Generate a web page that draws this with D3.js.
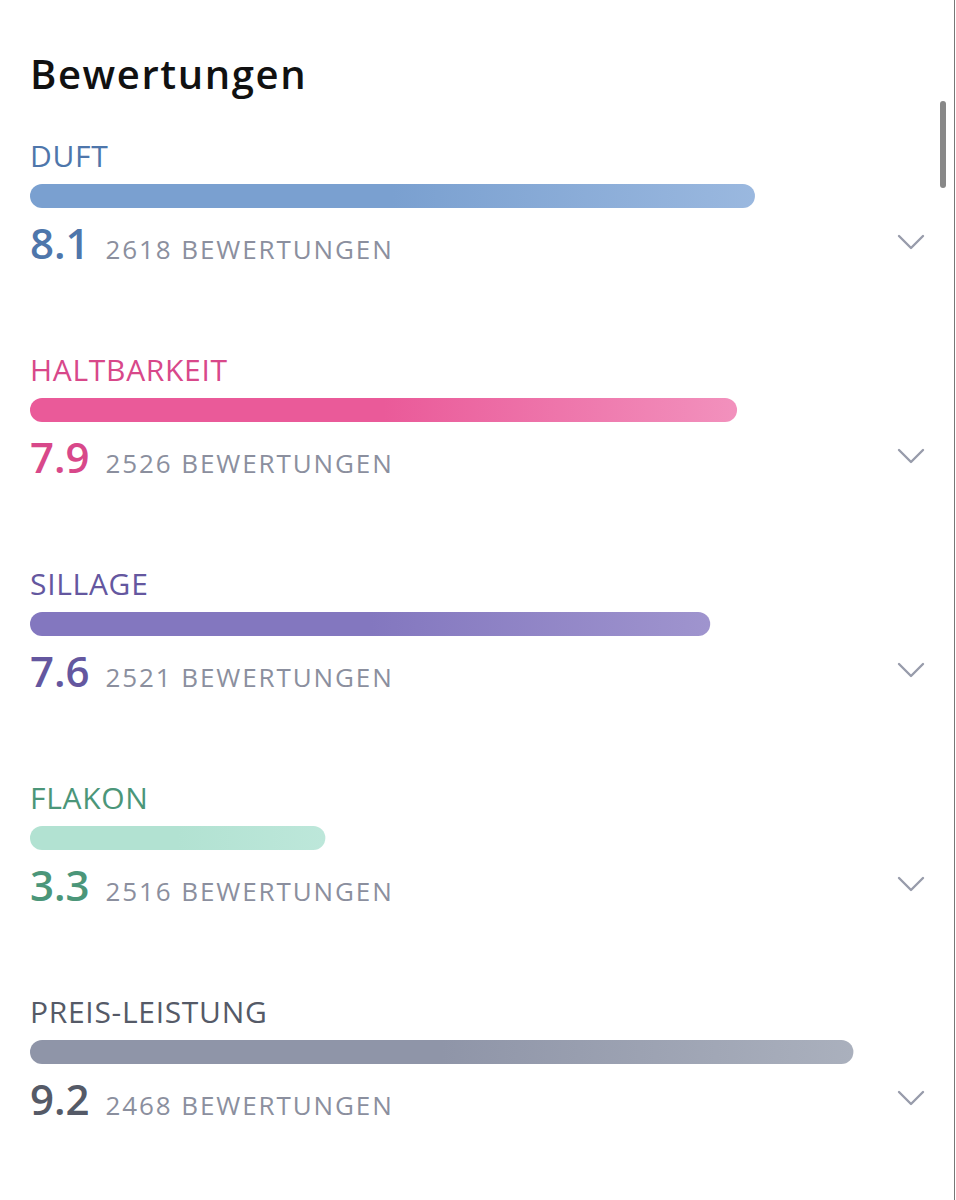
<!DOCTYPE html>
<html>
<head>
<meta charset="utf-8">
<script src="https://cdn.jsdelivr.net/npm/d3@7"></script>
<style>
  body { margin: 0; background: #fff; }
  svg { display: block; font-family: "Open Sans", sans-serif; }
</style>
</head>
<body>
<div id="chart"></div>
<script>
// ratings data
var categories = ["DUFT", "HALTBARKEIT", "SILLAGE", "FLAKON", "PREIS-LEISTUNG"];
var scores = [8.1, 7.9, 7.6, 3.3, 9.2];
var counts = [2618, 2526, 2521, 2516, 2468];
var labelColors = ["#4e76ab", "#d8488a", "#64579f", "#4b9679", "#555a67"];
var barColorsFrom = ["#7aa0d0", "#ea5a99", "#8377bf", "#b2e2d2", "#8f95a8"];
var barColorsTo = ["#9ab8df", "#f291bd", "#9f94ce", "#bde7da", "#aab0bd"];

var w = 956, h = 1200;

var svg = d3.select("#chart").append("svg")
    .attr("width", w)
    .attr("height", h);

var x = d3.scaleLinear().domain([0, 10]).range([30, 925]);

var y = d3.scaleBand()
    .domain(categories)
    .range([131, 131 + 214 * categories.length])
    .paddingInner(0);

var rows = categories.map(function(c, i) {
    return { name: c, score: scores[i], count: counts[i],
             color: labelColors[i], from: barColorsFrom[i], to: barColorsTo[i] };
});

// gradients for the bars
var defs = svg.append("defs");
rows.forEach(function(d, i) {
    var g = defs.append("linearGradient")
        .attr("id", "grad" + i)
        .attr("x1", "0%").attr("x2", "100%")
        .attr("y1", "0%").attr("y2", "0%");
    g.append("stop").attr("offset", "0%").attr("stop-color", d.from);
    g.append("stop").attr("offset", "50%").attr("stop-color", d.from);
    g.append("stop").attr("offset", "100%").attr("stop-color", d.to);
});

// title
svg.append("text")
    .attr("x", 30)
    .attr("y", 89)
    .attr("font-size", 40)
    .attr("font-weight", 600)
    .attr("letter-spacing", 1.6)
    .attr("fill", "#111")
    .text("Bewertungen");

var row = svg.selectAll(".row")
    .data(rows)
    .enter().append("g")
        .attr("class", "row")
        .attr("transform", function(d) { return "translate(0," + y(d.name) + ")"; });

row.append("text")
    .attr("x", 30)
    .attr("y", 36)
    .attr("font-size", 30)
    .attr("letter-spacing", 0.7)
    .attr("fill", function(d) { return d.color; })
    .text(function(d) { return d.name; });

row.append("rect")
    .attr("x", x(0))
    .attr("y", 53)
    .attr("height", 24)
    .attr("rx", 12)
    .attr("width", function(d) { return x(d.score) - x(0); })
    .attr("fill", function(d, i) { return "url(#grad" + i + ")"; });

var valText = row.append("text")
    .attr("x", 30)
    .attr("y", 128)
    .attr("fill", function(d) { return d.color; });

valText.append("tspan")
    .attr("font-size", 42)
    .attr("font-weight", 600)
    .text(function(d) { return d3.format(".1f")(d.score); });

valText.append("tspan")
    .attr("dx", 16)
    .attr("font-size", 26)
    .attr("letter-spacing", 1.9)
    .attr("fill", "#8b8f9e")
    .text(function(d) { return d.count + " BEWERTUNGEN"; });

// chevrons
row.append("path")
    .attr("d", "M899,105 L911,117 L923,105")
    .attr("fill", "none")
    .attr("stroke", "#989cab")
    .attr("stroke-width", 2.4)
    .attr("stroke-linecap", "round")
    .attr("stroke-linejoin", "round");

// scrollbar + right edge
svg.append("rect")
    .attr("x", 940).attr("y", 101)
    .attr("width", 6).attr("height", 87)
    .attr("rx", 3)
    .attr("fill", "#888");

svg.append("line")
    .attr("x1", 954.5).attr("x2", 954.5)
    .attr("y1", 0).attr("y2", h)
    .attr("stroke", "#777")
    .attr("stroke-width", 1);
</script>
</body>
</html>
